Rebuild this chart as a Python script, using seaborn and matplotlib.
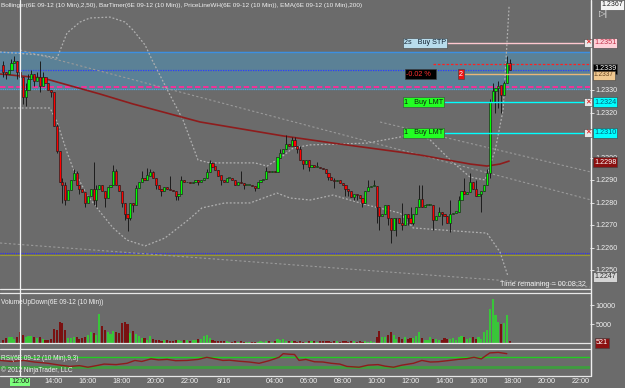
import numpy as np
import pandas as pd
import matplotlib
matplotlib.use("Agg")
import matplotlib.pyplot as plt
from matplotlib.lines import Line2D
import seaborn as sns

sns.set_theme(style="dark")
plt.rcParams['font.family'] = ['Liberation Sans Narrow', 'Liberation Sans', 'DejaVu Sans']

# ---------------- data (prices in pips relative to 1.2300) ----------------
BASE = 1.2300
first_open = 41
close_pips = [38, 37, 39, 42, 43, 38, 36, 27, 30, 35,
              37, 34, 36, 32, 36, 33, 30, 29, 14, 3,
              -11, -12, -19, -14.5, -10, -7, -12, -14, -15.5, -20,
              -17, -14, -19, -14, -12, -15, -18, -13, -12, -6,
              -12, -15, -20, -25, -27, -20, -21, -13.5, -11, -9,
              -10, -8, -6.5, -9, -12, -14, -15, -13, -14, -14.5,
              -15, -17, -16, -10, -11, -11, -11.5, -10.8, -10, -11,
              -10, -9, -6.5, -2.5, -4, -5.5, -8, -10, -11, -9,
              -9, -10, -12, -11, -11.5, -12, -12, -12, -12.5, -13.5,
              -11, -10, -9.5, -6, -6.5, -6, -6.5, 0, 2, 4,
              6, 5, 8, 5, 4, -1, -3, -1, -4, -3.5,
              -4, -4, -4.5, -5, -7, -8.5, -10, -10.5, -10, -11.5,
              -12, -14, -15, -17.5, -16, -16.5, -18, -20, -15, -13,
              -12.5, -12.5, -22, -26, -25, -21, -27, -32, -27, -27,
              -29, -30, -25, -27, -29, -25, -22, -18.5, -22, -21,
              -21, -21, -28, -26, -24, -25, -26, -29, -25, -24.5,
              -24, -19, -15, -16, -15.5, -11, -14, -17, -16, -15,
              -12, -7, 24.5, 29.5, 31, 32, 28, 33, 42, 39]
high_pips = {0: 43, 3: 44, 4: 45, 6: 40, 8: 33, 9: 37, 10: 39, 12: 38, 13: 43, 14: 38,
             16: 33, 19: 15, 21: -9, 22: -11, 25: -5, 26: -6, 32: -2, 33: -12, 39: -3.5,
             40: -5, 47: -12, 49: -6, 51: -4.5, 52: -5, 53: -6, 59: -8, 63: -8, 72: -5,
             73: -1, 74: -2, 84: -6, 93: -4, 98: 4, 100: 10, 102: 9, 103: 9, 105: 5,
             111: -2, 117: -9, 129: -10, 131: -10, 141: -20, 144: -22, 147: -12, 148: -12,
             154: -22, 158: -19, 161: -17, 163: -9, 165: -7, 167: -10, 171: -5, 172: 26,
             173: 33, 175: 34, 177: 34, 178: 45, 179: 44}
low_pips = {0: 36, 1: 35, 5: 35, 7: 24, 8: 23, 11: 32, 13: 29, 17: 27, 19: 2, 21: -20,
            22: -21, 23: -16, 27: -16, 29: -22, 32: -21, 33: -22, 36: -22, 42: -22,
            43: -28, 44: -32.5, 45: -28, 46: -24, 54: -14, 56: -17, 61: -19, 62: -19,
            69: -12, 77: -12, 85: -14, 89: -15, 104: 2, 106: -5, 108: -6, 115: -10,
            117: -13.5, 121: -17, 122: -17, 124: -19, 125: -19, 127: -22, 132: -29,
            133: -32, 136: -30, 137: -38, 139: -35, 141: -32, 143: -30, 145: -30,
            152: -32, 155: -30, 158: -33, 162: -17, 169: -24, 172: -9, 174: 20,
            175: 22, 176: 20}
volume = [870, 1300, 1500, 1600, 1000, 1600, 2800, 2200, 1600, 1750, 1900, 1500, 1300, 1600,
          1050, 870, 870, 1050,
          3700, 3300, 5600, 5300, 3300, 1200, 1300, 1500, 1600, 1050, 1200, 1500,
          2200, 3000, 2600, 2200, 7700, 4600, 3500, 2800, 2400, 3100, 3000, 2700, 5300, 5500, 5100,
          2600, 3100, 2400, 1750, 1300, 1300, 870, 1750, 1050, 870, 700, 500, 870, 700, 500,
          500, 870, 700, 500, 700, 870, 500, 700, 870, 1000, 1100, 1750, 2000, 1200, 700,
          500, 500, 500, 600, 400, 300, 300, 400, 300, 500, 300, 200, 300, 200, 300,
          300, 400, 300, 500, 400, 300, 600, 1100, 900, 1100, 600, 400, 500, 400, 300, 400,
          300, 300, 500, 400, 400, 300, 500, 600, 400, 600, 300, 400, 500, 300, 600, 400,
          300, 600, 400, 300, 400, 300, 500, 300, 400, 300,
          1500, 3200, 1600, 1500, 2200, 2800, 2200, 1100, 1500, 1100, 1500, 1000, 1200, 1300,
          1900, 2800, 1300, 900, 900, 1600, 1100, 1100, 900, 900, 1300, 1100, 1100, 1200,
          900, 1600, 1900, 1500, 1100, 1200, 1600, 1100, 1600, 1100, 2800, 3500,
          9000, 11700, 7300, 5600, 5000, 5200, 7500, 500]
ema_bar = [-1, 14.1, 34.3, 45.9, 69.6, 98.9, 116.6, 129.7, 140.3, 147.4, 165, 171, 175.6, 178.8]
ema_pips = [37.1, 35.3, 28.2, 23.8, 15.8, 9.6, 6.4, 4.2, 2.4, 1.1, -2.9, -3.8, -2.9, -1.6]
bb_up_bar = [-1.1, 13.1, 19.1, 22.6, 27.2, 30.7, 37.8, 43.1, 45.9, 50.2, 52.7, 59, 63.6, 68.9,
             73.1, 89, 93.3, 97.9, 102.5, 108.5, 128.6, 140.3, 145.6, 150.9, 158, 165, 170.3,
             173.9, 176.7, 178.8]
bb_up_pips = [46.9, 45.6, 44.2, 55.3, 60.2, 62, 62.4, 60.2, 56.7, 50, 43.3, 27.8, 16.7, -1.1,
              -2.4, -2.4, -3.8, -0.2, 4.2, 5.6, 6.4, 9.1, 11.3, 7.8, -1.1, -8.7, -10, 3.3,
              21.1, 67]
bb_lo_bar = [0, 16.6, 19.1, 22.6, 24.7, 29.7, 34.3, 38.9, 43.8, 50.2, 57.2, 65.4, 70.3, 78.4,
             87.3, 96.8, 101.4, 108.5, 116.6, 128.6, 140.3, 144.9, 165, 171, 175.6, 178.4]
bb_lo_pips = [22, 22, 15.8, 2.4, -4.7, -16.7, -24.2, -31.3, -36.7, -39.3, -35.8, -27.8, -22.4,
              -20.2, -20.2, -15.8, -18, -18.9, -16.7, -21.1, -24.7, -31.3, -33.1, -33.6, -42,
              -52.7]
rsi_bar = [-1, 3, 7.4, 11, 15.9, 20, 23.7, 27, 30, 33, 35.7, 40, 43.8, 46.6, 49, 52.3, 55,
           58, 61, 65, 69, 72, 75, 77.7, 80, 83.4, 87, 90.5, 94, 97.5, 99, 101, 103, 104.6,
           107, 110, 113, 116, 119, 121.5, 125.8, 129, 132.5, 135, 138, 141, 145, 148, 151,
           153.7, 157, 160.8, 164, 166.4, 169, 172, 175, 178]
rsi_val = [56, 52, 56, 50, 45, 38, 33, 36, 30, 36, 42, 40, 45, 56, 52, 62, 58, 60, 55, 56,
           60, 68, 62, 56, 57, 53, 50, 45, 55, 68, 82, 80, 79, 56, 60, 51, 50, 45, 42, 33,
           30, 38, 40, 34, 30, 38, 45, 56, 50, 51, 55, 60, 63, 68, 62, 85, 87, 82]
tick_bars = [6, 18, 30, 42, 54, 66, 78, 96, 108, 120, 132, 144, 156, 168, 180, 192, 204]
tick_labels = ['12:00', '14:00', '16:00', '18:00', '20:00', '22:00', '8/16', '04:00',
               '06:00', '08:00', '10:00', '12:00', '14:00', '16:00', '18:00', '20:00', '22:00']
price_ticks = [1.2250, 1.2260, 1.2270, 1.2280, 1.2290, 1.2300, 1.2320, 1.2330]

# ---------------- derived frame ----------------
n = len(close_pips)
opens = [first_open] + close_pips[:-1]
df = pd.DataFrame({'bar': np.arange(n), 'open': opens, 'close': close_pips, 'volume': volume})
df['high'] = [high_pips.get(i, max(o, c)) for i, (o, c) in enumerate(zip(df.open, df.close))]
df['low'] = [low_pips.get(i, min(o, c)) for i, (o, c) in enumerate(zip(df.open, df.close))]
for col in ['open', 'close', 'high', 'low']:
    df[col] = BASE + df[col] / 10000.0
df['dir'] = np.where(df.close >= df.open, 'up', 'down')

W, H = 625, 388
BG = '#6b6b6b'
fig = plt.figure(figsize=(W / 100, H / 100), dpi=100)
fig.patch.set_facecolor(BG)

def fx(x):
    return x / W

def fy(y):
    return 1 - y / H

ax = fig.add_axes([0, fy(288), fx(590), 288 / H])
axv = fig.add_axes([0, fy(343), fx(590), 50 / H])
axr = fig.add_axes([0, fy(375), fx(590), 26 / H])
XL = (-1.06, 207.4)
for a in (ax, axv, axr):
    a.set_facecolor(BG)
    a.set_xlim(*XL)
    for s in a.spines.values():
        s.set_visible(False)
    a.grid(False)

ax.set_ylim(1.2242, 1.2370)

def py(y):
    # pixel row in price panel -> price
    return 1.2370 - y * (0.0128 / 288)

# blue zone and horizontal levels
ax.axhspan(py(89), py(52), color='#5b8196', zorder=0)
ax.axhline(py(52), color='#3d8fe0', lw=1.0, zorder=1)
ax.axhline(py(89), color='#5aa0e0', lw=0.8, ls=(0, (1, 1)), zorder=1)
ax.axhline(py(69.5), color='#2a3cff', lw=0.9, ls=(0, (1, 1)), zorder=1)
ax.axhline(py(86.5), color='#ff2a9a', lw=1.3, ls=(0, (3, 1.5)), zorder=1)
ax.axhline(py(253), color='#2a2aff', lw=0.8, ls=(0, (1, 1)), zorder=1)
ax.axhline(py(255), color='#9a9a30', lw=0.8, zorder=1)

# straight trend lines
for (x0, y0, x1, y1) in [(20, 50, 595, 201), (380, 122, 595, 173), (0, 243, 590, 287)]:
    ax.plot([(x0 - 3) / 2.83, (x1 - 3) / 2.83], [py(y0), py(y1)], color='#9a9a9a',
            lw=0.8, ls=(0, (2, 2)), zorder=1)

# Bollinger bands and EMA
sns.lineplot(x=bb_up_bar, y=[BASE + v / 1e4 for v in bb_up_pips], ax=ax, color='#b0b0b0',
             lw=0.9, ls=(0, (1.5, 1.5)), zorder=2)
sns.lineplot(x=bb_lo_bar, y=[BASE + v / 1e4 for v in bb_lo_pips], ax=ax, color='#b0b0b0',
             lw=0.9, ls=(0, (1.5, 1.5)), zorder=2)
sns.lineplot(x=ema_bar, y=[BASE + v / 1e4 for v in ema_pips], ax=ax, color='#8e1c1c',
             lw=1.2, zorder=2)

# candles
ax.vlines(df.bar, df.low, df.high, color='#1c1c1c', lw=0.7, zorder=3)
body_h = (df.close - df.open).abs().clip(lower=0.00002)
ax.bar(df.bar, body_h, bottom=np.minimum(df.open, df.close), width=0.75,
       color=np.where(df.dir == 'up', '#00ff00', '#ff0000'), edgecolor='#1c1c1c',
       linewidth=0.45, zorder=4)

# order lines
ax.plot([(445 - 3) / 2.83, (585 - 3) / 2.83], [py(43)] * 2, color='#ffc8d0', lw=1.0, zorder=5)
ax.plot([(445 - 3) / 2.83, (585 - 3) / 2.83], [py(102)] * 2, color='#00ffff', lw=1.0, zorder=5)
ax.plot([(445 - 3) / 2.83, (585 - 3) / 2.83], [py(133)] * 2, color='#00ffff', lw=1.0, zorder=5)
ax.plot([(465 - 3) / 2.83, XL[1]], [py(74)] * 2, color='#e8b878', lw=1.0, zorder=5)
ax.plot([(433 - 3) / 2.83, XL[1]], [py(64)] * 2, color='#ff2020', lw=0.9,
        ls=(0, (2, 1.5)), zorder=5)

ax.set_xticks([])
ax.yaxis.tick_right()
ax.set_yticks(price_ticks)
ax.set_yticklabels([f'{t:.4f}' for t in price_ticks])
ax.tick_params(axis='y', colors='#f0f0f0', labelsize=5.2, length=3, width=0.6, pad=1,
               direction='out')

# volume
sns.barplot(data=df, x='bar', y='volume', hue='dir', palette={'up': '#22dd22', 'down': '#8b0000'},
            native_scale=True, dodge=False, width=0.75, errorbar=None, legend=False, ax=axv,
            linewidth=0, zorder=3)
axv.set_xlim(*XL)
axv.set_ylim(0, 13160)
axv.set_xlabel('')
axv.set_ylabel('')
axv.set_xticks([])
axv.yaxis.tick_right()
axv.set_yticks([5000, 10000])
axv.set_yticklabels(['5000', '10000'])
axv.tick_params(axis='y', colors='#f0f0f0', labelsize=5.2, length=3, width=0.6, pad=1)

# RSI
axr.axhline(70, color='#22cc22', lw=1.0, zorder=1)
axr.axhline(30, color='#33aa33', lw=2.0, alpha=0.8, zorder=1)
sns.lineplot(x=rsi_bar, y=rsi_val, ax=axr, color='#8e1c1c', lw=1.0, zorder=3)
axr.set_ylim(0, 100)
axr.set_yticks([])
axr.set_xlim(*XL)
axr.set_xticks(tick_bars)
axr.set_xticklabels(tick_labels)
axr.tick_params(axis='x', colors='#f0f0f0', labelsize=5.2, length=2, width=0.6, pad=0.5)
lbl = axr.get_xticklabels()[0]
lbl.set_color('#1a1a1a')
lbl.set_bbox(dict(boxstyle='square,pad=0.1', fc='#7cff7c', ec='none'))

# frame lines
def hline_px(y, x0=0, x1=590, color='#e8e8e8', lw=1.0):
    fig.add_artist(Line2D([fx(x0), fx(x1)], [fy(y), fy(y)], transform=fig.transFigure,
                          color=color, lw=lw))

def vline_px(x, y0, y1, color='#f0f0f0', lw=1.0):
    fig.add_artist(Line2D([fx(x), fx(x)], [fy(y0), fy(y1)], transform=fig.transFigure,
                          color=color, lw=lw))

for yy in (289, 293, 343, 349, 376):
    hline_px(yy, lw=0.9)
vline_px(590.5, 0, 376)
vline_px(20, 0, 376, color='#f4f4f4', lw=0.9)

# texts
def txt(x, y, s, color='#f0f0f0', size=5.2, ha='left', bg=None, z=10, **kw):
    bbox = None
    if bg is not None:
        bbox = dict(boxstyle='square,pad=0.15', fc=bg, ec='#404040', lw=0.4)
    fig.text(fx(x), fy(y), s, color=color, fontsize=size, ha=ha, va='center', bbox=bbox,
             zorder=z, **kw)

txt(1, 5, 'Bollinger(6E 09-12 (10 Min),2,50), BarTimer(6E 09-12 (10 Min)), '
          'PriceLineWH(6E 09-12 (10 Min)), EMA(6E 09-12 (10 Min),200)', size=4.6)
txt(1, 303, 'VolumeUpDown(6E 09-12 (10 Min))', size=4.7)
txt(1, 359, 'RSI(6E 09-12 (10 Min),9,3)', size=4.7)
txt(1, 370, '© 2012 NinjaTrader, LLC', size=4.7)
txt(586, 285, 'Time remaining = 00:08:32', size=5.2, ha='right', family='Liberation Sans')

# right-hand price markers
txt(623, 5, '1.2367', color='#202020', bg='#f4f4f4', size=5, ha='right')
txt(594, 43, '1.2351', color='#c03048', bg='#ffd0d8')
txt(594, 69, '1.2339', color='#ffffff', bg='#000000')
txt(594, 75, '1.2337', color='#6a4620', bg='#f0c890', size=4.8)
txt(594, 102, '1.2324', color='#00607a', bg='#00ffff')
txt(594, 133, '1.2310', color='#00607a', bg='#00ffff')
txt(594, 162, '1.2298', color='#ffffff', bg='#8b1010')
txt(594, 277, '1.2247', color='#303030', bg='#d4d4d4', size=5)
txt(596, 343, '521', color='#ffffff', bg='#8b1010')

# order labels
txt(404, 43, '2s   Buy STP', color='#102030', bg='#b8dcec')
txt(404, 102, '1   Buy LMT', color='#102010', bg='#22ff22')
txt(404, 133, '1   Buy LMT', color='#102010', bg='#22ff22')
txt(406, 74, '-0.02 %  ', color='#ff3030', bg='#000000')
txt(459, 74, '2', color='#ffffff', bg='#ee1010')
for yy in (43, 102, 133):
    txt(585, yy, '✕', color='#dd0000', bg='#e8e8e8', size=5, family='DejaVu Sans')
txt(604, 14, '▷|', color='#f0f0f0', size=6, family='DejaVu Sans', ha='center')

fig.savefig('out.png', dpi=100, facecolor=BG)
